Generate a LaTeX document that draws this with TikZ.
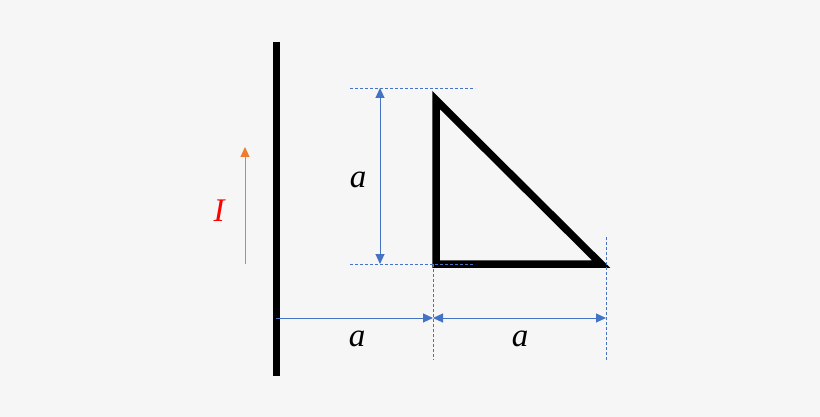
\documentclass[tikz,border=0pt]{standalone}
\usepackage{fontspec}
\setmainfont{Liberation Serif}
\usetikzlibrary{arrows.meta}
\definecolor{bg}{HTML}{F6F6F6}
\definecolor{dimblue}{HTML}{4472C4}
\definecolor{curorange}{HTML}{ED7D31}
\definecolor{labred}{HTML}{FF0000}
\tikzset{
  wire/.style={line width=7pt},
  loop/.style={line width=7.5pt, line join=miter, miter limit=10},
  guide/.style={dimblue, line width=0.8pt, dash pattern=on 3pt off 2pt},
  dimline/.style={dimblue, line width=1pt, -{Triangle[length=10pt,width=9pt]}},
  dimboth/.style={dimblue, line width=1pt, {Triangle[length=10pt,width=9pt]}-{Triangle[length=10pt,width=9pt]}},
  current/.style={curorange, line width=1pt, -{Triangle[length=10pt,width=9pt]}},
  lab/.style={font=\fontsize{33}{33}\selectfont\itshape, inner sep=0pt}
}
\begin{document}
\begin{tikzpicture}[x=1pt,y=-1pt]
\path[fill=bg, use as bounding box] (0,0) rectangle (820,417);
% wire
\coordinate (wtop) at (276,42);
\coordinate (wbot) at (276,376);
\draw[wire] (wtop) -- (wbot);
% triangle
\coordinate (A) at (436,100);
\coordinate (B) at (436,264);
\coordinate (C) at (601,264);
\draw[loop] (A) -- (B) -- (C) -- cycle;
% guides
\coordinate (g1a) at (350,88);
\coordinate (g1b) at (475,88);
\coordinate (g2a) at (350,264);
\coordinate (g2b) at (475,264);
\coordinate (g3a) at (433,264);
\coordinate (g3b) at (433,360);
\coordinate (g4a) at (606,237);
\coordinate (g4b) at (606,360);
\draw[guide] (g1a) -- (g1b);
\draw[guide] (g2a) -- (g2b);
\draw[guide] (g3a) -- (g3b);
\draw[guide] (g4a) -- (g4b);
% dimension arrows
\coordinate (v1) at (380,88);
\coordinate (v2) at (380,264);
\draw[dimboth] (v1) -- (v2);
\coordinate (h1) at (276,318);
\coordinate (h2) at (433,318);
\coordinate (h3) at (606,318);
\draw[dimline] (h1) -- (h2);
\draw[dimboth] (h2) -- (h3);
% labels
\node[lab] (la) at (358,180) {a};
\node[lab] (lb) at (357,339) {a};
\node[lab] (lc) at (520,339) {a};
% current
\coordinate (i1) at (245,264);
\coordinate (i2) at (245,147);
\draw[current] (i1) -- (i2);
\node[lab, labred] (lI) at (219,211) {I};
\end{tikzpicture}
\end{document}
